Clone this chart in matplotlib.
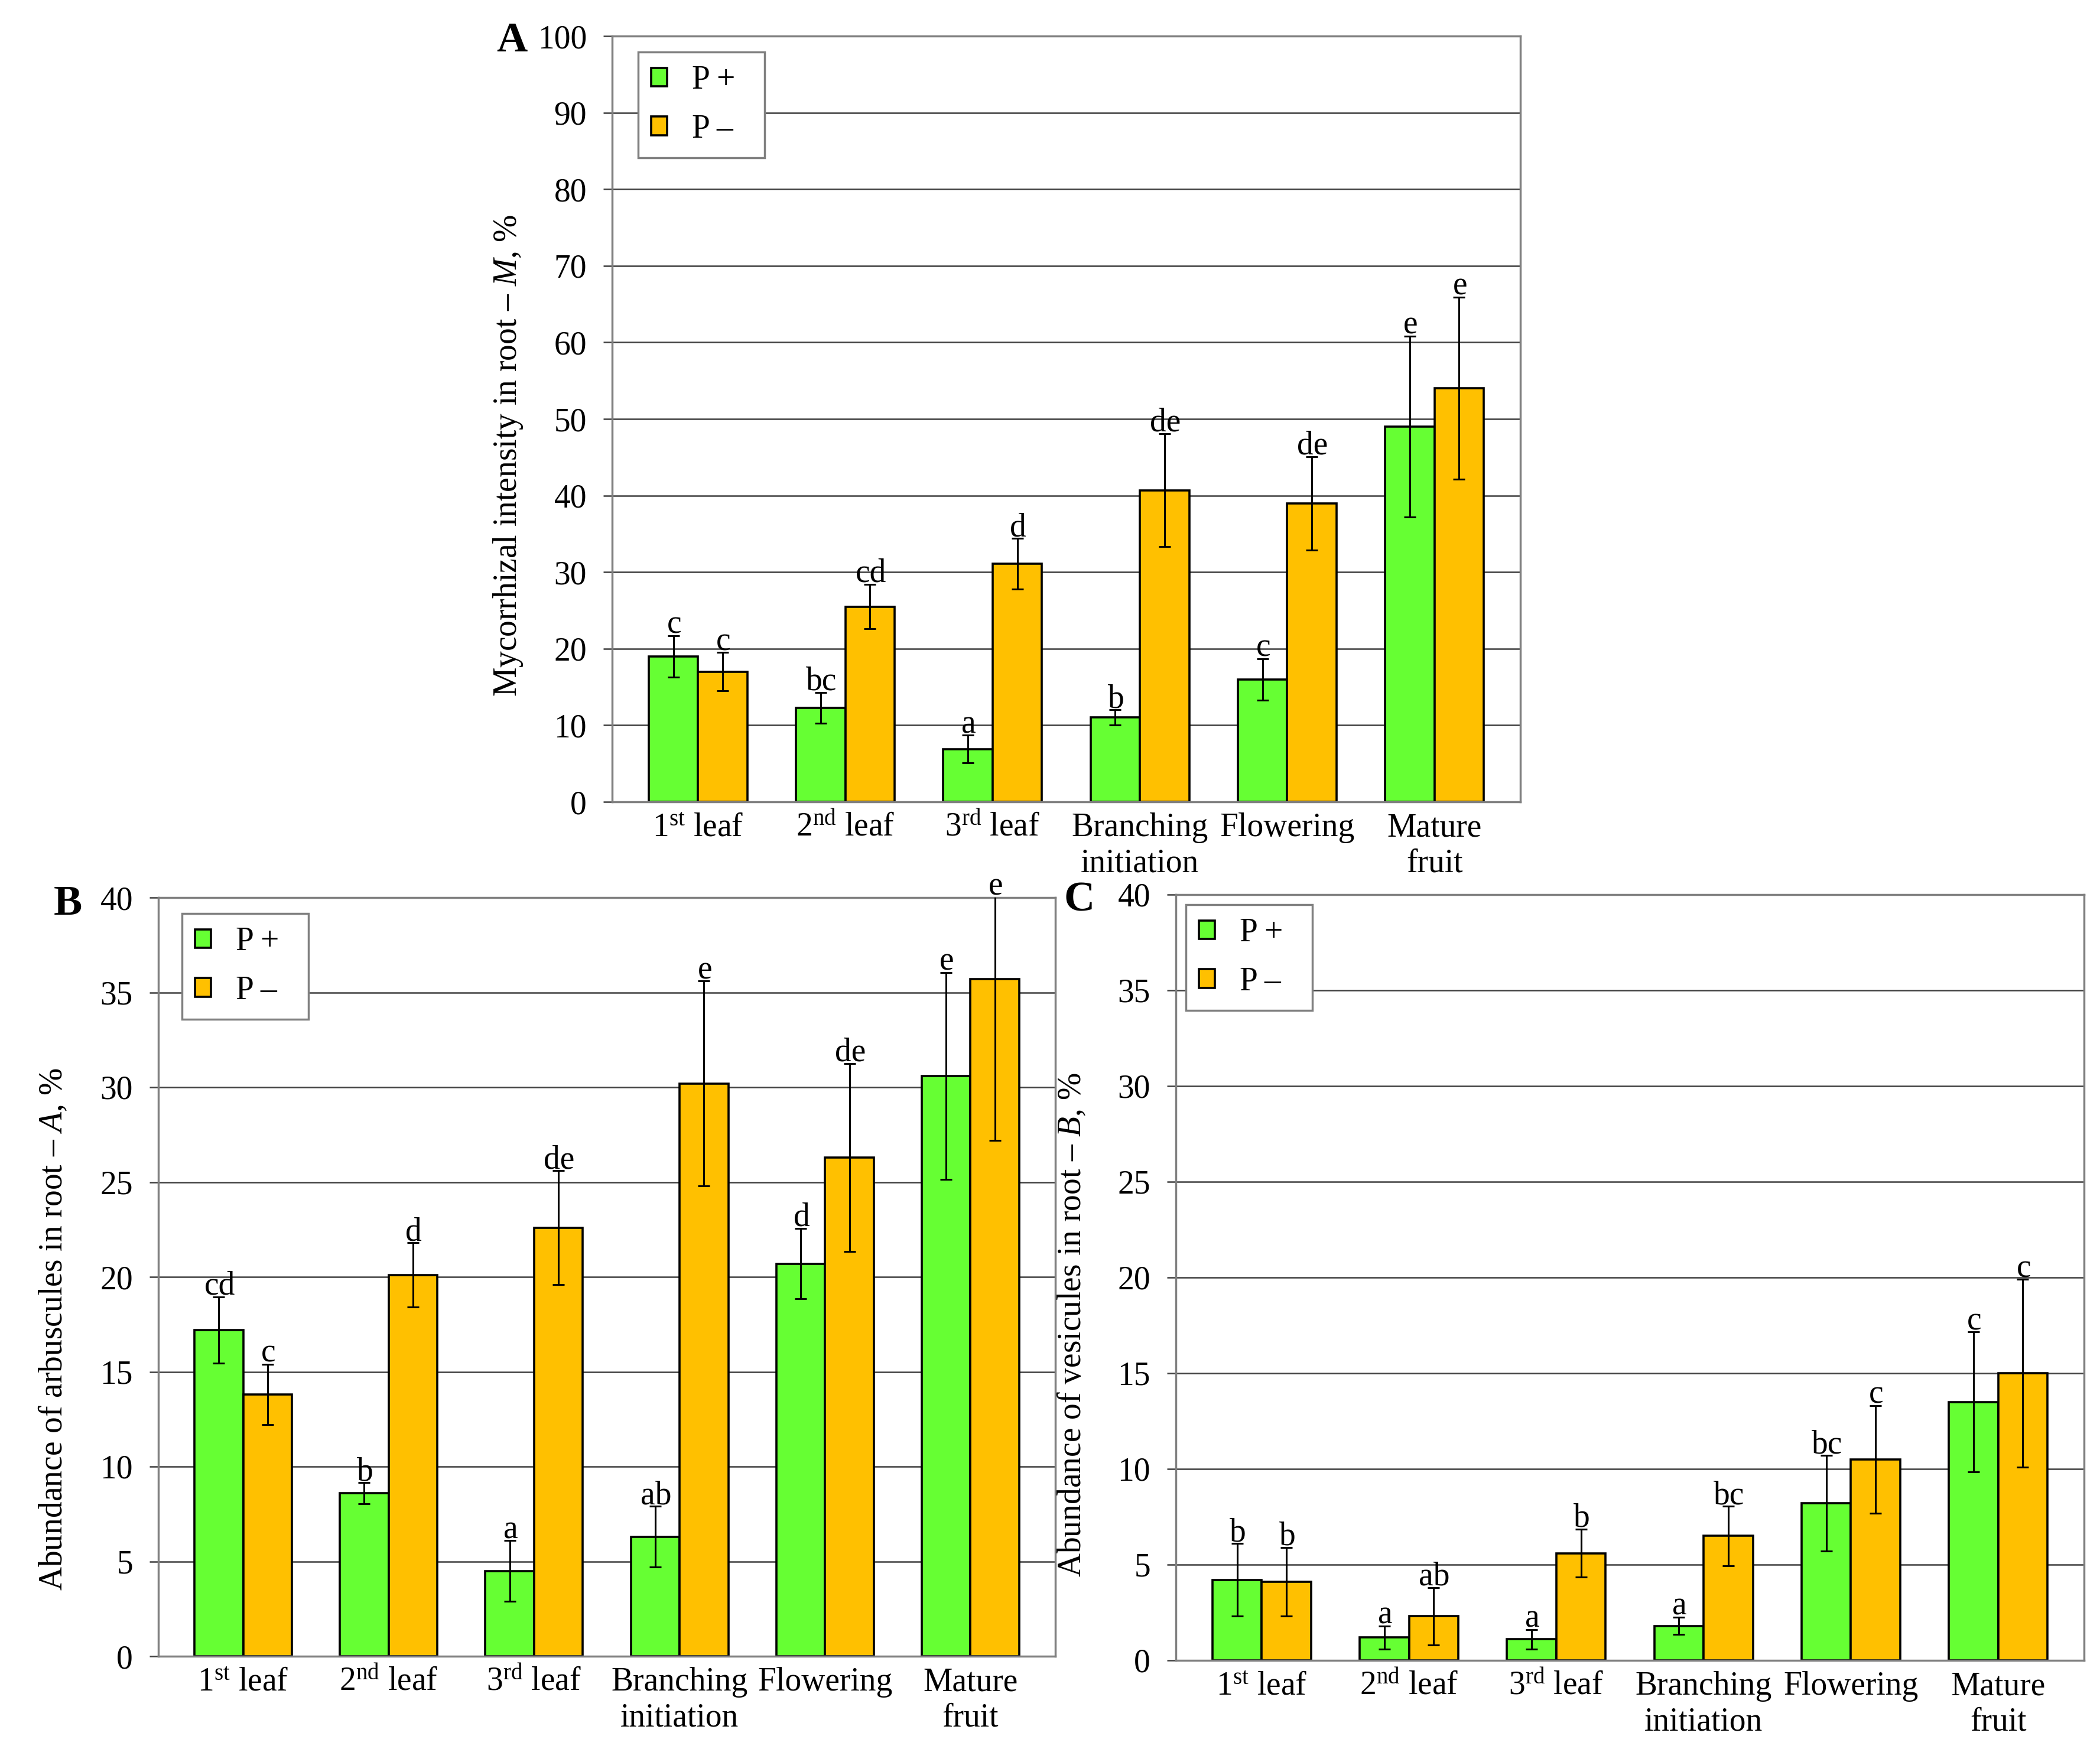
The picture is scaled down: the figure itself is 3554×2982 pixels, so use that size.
import numpy as np
import matplotlib
matplotlib.use("Agg")
import matplotlib.pyplot as plt

# 폰트 설정 (Times 스타일)
plt.rcParams['font.family'] = ['Liberation Serif', 'DejaVu Serif']
plt.rcParams['mathtext.fontset'] = 'custom'
plt.rcParams['mathtext.rm'] = 'Liberation Serif'
plt.rcParams['mathtext.it'] = 'Liberation Serif:italic'

# 데이터
stages = ["1$^{\\mathrm{st}}$ leaf", "2$^{\\mathrm{nd}}$ leaf", "3$^{\\mathrm{rd}}$ leaf",
          "Branching\ninitiation", "Flowering", "Mature\nfruit"]
series_names = ["P\u2009+\u2002", "P\u2009\u2013\u2002"]

# A: mycorrhizal intensity M, %
m_pplus = [19.0, 12.3, 6.9, 11.0, 16.0, 49.0]
m_pplus_err = [2.7, 2.0, 1.8, 1.0, 2.7, 11.8]
m_pminus = [17.0, 25.5, 31.1, 40.7, 39.0, 54.0]
m_pminus_err = [2.5, 2.9, 3.3, 7.4, 6.1, 11.9]
m_letters_pplus = ["c", "bc", "a", "b", "c", "e"]
m_letters_pminus = ["c", "cd", "d", "de", "de", "e"]

# B: arbuscules A, %
a_pplus = [17.2, 8.6, 4.5, 6.3, 20.7, 30.6]
a_pplus_err = [1.75, 0.55, 1.6, 1.6, 1.85, 5.45]
a_pminus = [13.8, 20.1, 22.6, 30.2, 26.3, 35.7]
a_pminus_err = [1.6, 1.7, 3.0, 5.4, 4.95, 8.5]
a_letters_pplus = ["cd", "b", "a", "ab", "d", "e"]
a_letters_pminus = ["c", "d", "de", "e", "de", "e"]

# C: vesicules B, %
b_pplus = [4.2, 1.2, 1.1, 1.8, 8.2, 13.5]
b_pplus_err = [1.9, 0.6, 0.5, 0.45, 2.5, 3.65]
b_pminus = [4.1, 2.3, 5.6, 6.5, 10.5, 15.0]
b_pminus_err = [1.8, 1.5, 1.25, 1.55, 2.8, 4.9]
b_letters_pplus = ["b", "a", "a", "a", "bc", "c"]
b_letters_pminus = ["b", "ab", "b", "bc", "c", "c"]

W, H = 3554, 2982
GREEN = "#66FF33"
ORANGE = "#FFC000"
FS = 40


def draw_panel(ax, pplus, pplus_err, pminus, pminus_err, let_plus, let_minus,
               ymax, ystep, ylabel, label_y, label_x):
    x = np.arange(len(stages))
    w = 0.335
    ax.set_axisbelow(True)
    ax.yaxis.grid(True, color="#404040", linewidth=1.8)
    groups = [(x - w / 2, pplus, pplus_err, let_plus, GREEN, series_names[0]),
              (x + w / 2, pminus, pminus_err, let_minus, ORANGE, series_names[1])]
    for xs, vals, errs, lets, col, name in groups:
        ax.bar(xs, vals, width=w, color=col, edgecolor="black", linewidth=2.6, label=name, zorder=2)
        ax.errorbar(xs, vals, yerr=errs, fmt="none", ecolor="black", elinewidth=2.2,
                    capsize=7, capthick=2.2, zorder=3)
        for xi, v, e, t in zip(xs, vals, errs, lets):
            ytop = min(v + e, ymax)
            ax.annotate(t, (xi, ytop), xytext=(1, 3), textcoords="offset points",
                        ha="center", va="baseline", fontsize=FS, annotation_clip=False)
    ax.set_xlim(-0.583, len(stages) - 1 + 0.583)
    ax.set_ylim(0, ymax)
    ax.set_yticks(np.arange(0, ymax + 0.1, ystep))
    ax.set_xticks(x)
    ax.set_xticklabels(stages, fontsize=FS, linespacing=1.2)
    ax.tick_params(axis="x", length=0, pad=13)
    ax.tick_params(axis="y", length=11, width=1.8, color="#404040", pad=20, labelsize=FS)
    for sp in ax.spines.values():
        sp.set_color("#808080")
        sp.set_linewidth(2.5)
    ax.set_ylabel(ylabel, fontsize=FS)
    ax.yaxis.set_label_coords(label_x, label_y)


def add_legend(ax, dx, dy):
    bbox = ax.get_position()
    fx = bbox.x0 * W + dx
    fy = bbox.y1 * H - dy
    leg = ax.legend(loc="upper left", bbox_to_anchor=(fx / W, fy / H),
                    bbox_transform=ax.figure.transFigure, fontsize=FS,
                    handlelength=0.49, handleheight=0.49, handletextpad=0.75,
                    labelspacing=0.55, borderpad=0.4, borderaxespad=0,
                    fancybox=False, framealpha=1, edgecolor="#808080")
    leg.get_frame().set_linewidth(2.5)


fig = plt.figure(figsize=(W / 100, H / 100), dpi=100)

ax_a = fig.add_axes([1036 / W, 1 - 1357 / H, 1537 / W, 1296 / H])
draw_panel(ax_a, m_pplus, m_pplus_err, m_pminus, m_pminus_err,
           m_letters_pplus, m_letters_pminus, 100, 10,
           "Mycorrhizal intensity in root \u2013 $\\mathit{M}$, %", 0.452, -0.096)
add_legend(ax_a, 44, 27)

ax_b = fig.add_axes([268 / W, 1 - 2803 / H, 1518 / W, 1284 / H])
draw_panel(ax_b, a_pplus, a_pplus_err, a_pminus, a_pminus_err,
           a_letters_pplus, a_letters_pminus, 40, 5,
           "Abundance of arbuscules in root \u2013 $\\mathit{A}$, %", 0.431, -0.099)
add_legend(ax_b, 40, 27)

ax_c = fig.add_axes([1990 / W, 1 - 2810 / H, 1537 / W, 1296 / H])
draw_panel(ax_c, b_pplus, b_pplus_err, b_pminus, b_pminus_err,
           b_letters_pplus, b_letters_pminus, 40, 5,
           "Abundance of vesicules in root \u2013 $\\mathit{B}$, %", 0.438, -0.097)
add_legend(ax_c, 17, 17)

# 패널 라벨
for lab, px, py in [("A", 840, 87), ("B", 91, 1548), ("C", 1801, 1542)]:
    fig.text(px / W, 1 - py / H, lab, fontsize=52, fontweight="bold",
             ha="left", va="baseline")

fig.savefig("out.png", dpi=100)
